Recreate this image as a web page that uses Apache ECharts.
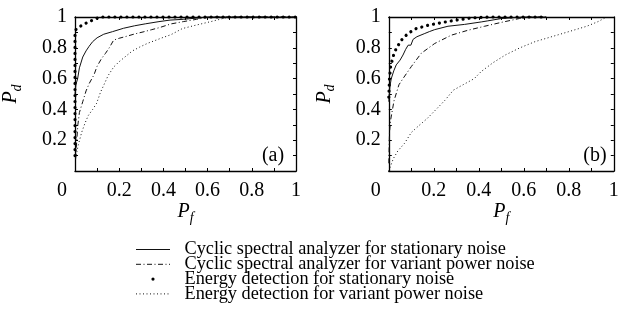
<!DOCTYPE html>
<html>
<head>
<meta charset="utf-8">
<script src="https://cdn.jsdelivr.net/npm/echarts@6/dist/echarts.min.js"></script>
<style>
  html, body { margin: 0; padding: 0; background: #fff; }
  #chart { width: 627px; height: 320px; }
</style>
</head>
<body>
<div id="chart"></div>
<script>
// ROC curves, Pf on x, Pd on y
const xTicks = [0, 0.2, 0.4, 0.6, 0.8, 1];

const seriesNames = [
  'Cyclic spectral analyzer for stationary noise',
  'Cyclic spectral analyzer for variant power noise',
  'Energy detection for stationary noise',
  'Energy detection for variant power noise'
];

// panel (a)
const aCyclicStationary = [[0, 0.5], [0.004, 0.56], [0.012, 0.6], [0.02, 0.67], [0.035, 0.74], [0.05, 0.78], [0.064, 0.81], [0.08, 0.84], [0.1, 0.865], [0.13, 0.888], [0.17, 0.905], [0.22, 0.927], [0.27, 0.943], [0.32, 0.956], [0.38, 0.97], [0.43, 0.98], [0.49, 0.985], [0.55, 0.993], [0.6, 1], [1, 1]];
const aCyclicVariant = [[0.003, 0.08], [0.008, 0.2], [0.013, 0.3], [0.02, 0.38], [0.035, 0.45], [0.05, 0.52], [0.065, 0.57], [0.086, 0.625], [0.1, 0.68], [0.12, 0.73], [0.138, 0.764], [0.155, 0.8], [0.175, 0.85], [0.2, 0.862], [0.234, 0.875], [0.27, 0.89], [0.308, 0.903], [0.345, 0.917], [0.382, 0.931], [0.434, 0.955], [0.49, 0.97], [0.55, 0.985], [0.6, 0.998], [0.62, 1], [1, 1]];
const aEnergyStationary = [[0, 0.1], [0, 0.5], [0, 0.9], [0.005, 0.92], [0.015, 0.93], [0.03, 0.945], [0.05, 0.96], [0.08, 0.98], [0.105, 0.995], [0.12, 1], [1, 1]];
const aEnergyVariant = [[0.005, 0.1], [0.015, 0.17], [0.03, 0.25], [0.045, 0.31], [0.06, 0.36], [0.08, 0.4], [0.098, 0.44], [0.115, 0.51], [0.131, 0.56], [0.15, 0.62], [0.175, 0.675], [0.2, 0.71], [0.234, 0.75], [0.26, 0.78], [0.293, 0.805], [0.33, 0.83], [0.367, 0.85], [0.4, 0.868], [0.434, 0.885], [0.486, 0.925], [0.55, 0.948], [0.62, 0.972], [0.69, 0.998], [0.72, 1], [1, 1]];

// panel (b)
const bCyclicStationary = [[0, 0.45], [0.005, 0.55], [0.011, 0.6], [0.022, 0.65], [0.033, 0.689], [0.05, 0.72], [0.063, 0.753], [0.075, 0.79], [0.086, 0.817], [0.098, 0.817], [0.108, 0.855], [0.125, 0.872], [0.16, 0.893], [0.18, 0.905], [0.204, 0.918], [0.263, 0.94], [0.337, 0.952], [0.411, 0.968], [0.44, 0.975], [0.5, 0.99], [0.6, 1], [0.7, 1]];
const bCyclicVariant = [[0, 0.05], [0.003, 0.25], [0.008, 0.33], [0.023, 0.455], [0.045, 0.56], [0.063, 0.6], [0.1, 0.678], [0.144, 0.764], [0.204, 0.828], [0.278, 0.882], [0.352, 0.914], [0.426, 0.94], [0.5, 0.965], [0.58, 0.99], [0.62, 1], [0.7, 1]];
const bEnergyStationary = [[0, 0.48], [0.003, 0.6], [0.008, 0.678], [0.019, 0.743], [0.033, 0.796], [0.056, 0.85], [0.085, 0.893], [0.122, 0.925], [0.174, 0.946], [0.233, 0.963], [0.293, 0.978], [0.367, 0.994], [0.45, 1], [0.7, 1]];
const bEnergyVariant = [[0, 0], [0.02, 0.08], [0.04, 0.13], [0.07, 0.18], [0.1, 0.25], [0.13, 0.29], [0.17, 0.34], [0.213, 0.404], [0.25, 0.46], [0.287, 0.525], [0.33, 0.56], [0.38, 0.6], [0.41, 0.645], [0.464, 0.704], [0.52, 0.755], [0.583, 0.8], [0.65, 0.84], [0.731, 0.875], [0.8, 0.905], [0.88, 0.94], [0.93, 0.97], [0.968, 1]];

const panels = [
  [aCyclicStationary, aCyclicVariant, aEnergyStationary, aEnergyVariant],
  [bCyclicStationary, bCyclicVariant, bEnergyStationary, bEnergyVariant]
];

const serif = 'Liberation Serif';
const ink = '#111';

const lineStyles = [
  { color: ink, width: 1, type: 'solid' },
  { color: ink, width: 1, type: [5, 2.5, 1, 2.5] },
  { color: '#000', width: 3.2, type: [0.01, 6], cap: 'round' },
  { color: ink, width: 1, type: [1, 2.5] }
];

const chart = echarts.init(document.getElementById('chart'), null, { renderer: 'canvas' });

const grids = [
  { left: 70.5, top: 17, width: 225.5, height: 154 },
  { left: 388.8, top: 17, width: 225, height: 154 }
];

const nameRich = {
  p: { fontFamily: serif, fontStyle: 'italic', fontSize: 20, color: '#000', lineHeight: 20, verticalAlign: 'top' },
  s: { fontFamily: serif, fontStyle: 'italic', fontSize: 14, color: '#000', lineHeight: 32, verticalAlign: 'middle' }
};

function frameAxis(pos, gridIndex, extra) {
  return Object.assign({
    type: 'value',
    gridIndex: gridIndex,
    position: pos,
    min: 0,
    max: 1,
    interval: 0.2,
    axisLine: { show: true, onZero: false, lineStyle: { color: '#000', width: 1.3 } },
    axisTick: { show: true, inside: true, length: 3, lineStyle: { color: '#000' } },
    minorTick: { show: true, splitNumber: 2, length: 3, lineStyle: { color: '#000' } },
    splitLine: { show: false },
    axisLabel: { show: false }
  }, extra);
}

const xAxes = [];
const yAxes = [];
grids.forEach((g, i) => {
  xAxes.push(frameAxis('bottom', i, {
    name: '{p|P}{s|f}',
    nameLocation: 'middle',
    nameGap: 25,
    nameTextStyle: { rich: nameRich },
    axisLabel: {
      show: true,
      margin: 10,
      fontFamily: serif,
      fontSize: 20,
      color: '#000',
      formatter: (v) => (v === xTicks[0] ? '{z|0}' : String(v)),
      rich: { z: { fontFamily: serif, fontSize: 20, color: '#000', padding: [0, 26, 0, 0] } }
    }
  }));
  xAxes.push(frameAxis('top', i, {}));
  yAxes.push(frameAxis('left', i, {
    name: '{p|P}{s|d}',
    nameLocation: 'middle',
    nameGap: 42,
    nameTextStyle: { rich: nameRich },
    axisLabel: {
      show: true,
      margin: 8,
      showMinLabel: false,
      fontFamily: serif,
      fontSize: 20,
      color: '#000'
    }
  }));
  yAxes.push(frameAxis('right', i, {}));
});

const series = [];
panels.forEach((curves, p) => {
  curves.forEach((pts, k) => {
    series.push({
      name: seriesNames[k],
      type: 'line',
      xAxisIndex: p * 2,
      yAxisIndex: p * 2,
      data: pts,
      symbol: 'none',
      clip: false,
      color: '#000',
      lineStyle: lineStyles[k],
      z: k === 2 ? 4 : 3
    });
  });
});

const legendData = seriesNames.map((name, k) => (k === 2
  ? { name: name, lineStyle: { opacity: 0 }, itemStyle: { color: '#000', opacity: 1 } }
  : { name: name, itemStyle: { opacity: 0 }, lineStyle: { width: 1 } }));

const option = {
  backgroundColor: '#fff',
  animation: false,
  grid: grids,
  xAxis: xAxes,
  yAxis: yAxes,
  legend: {
    orient: 'vertical',
    left: 135,
    top: 240.5,
    padding: 0,
    itemWidth: 34,
    itemHeight: 4,
    itemGap: -3.2,
    selectedMode: false,
    textStyle: { fontFamily: serif, fontSize: 18.3, color: '#000', lineHeight: 14.6, padding: [0, 0, 0, 9.5] },
    data: legendData
  },
  graphic: [
    { type: 'text', x: 273, y: 156, style: { text: '(a)', fontFamily: serif, fontSize: 20, fill: '#000', align: 'center', verticalAlign: 'middle' } },
    { type: 'text', x: 595, y: 156, style: { text: '(b)', fontFamily: serif, fontSize: 20, fill: '#000', align: 'center', verticalAlign: 'middle' } }
  ],
  series: series
};

chart.setOption(option);
window.addEventListener('resize', () => chart.resize());
</script>
</body>
</html>
